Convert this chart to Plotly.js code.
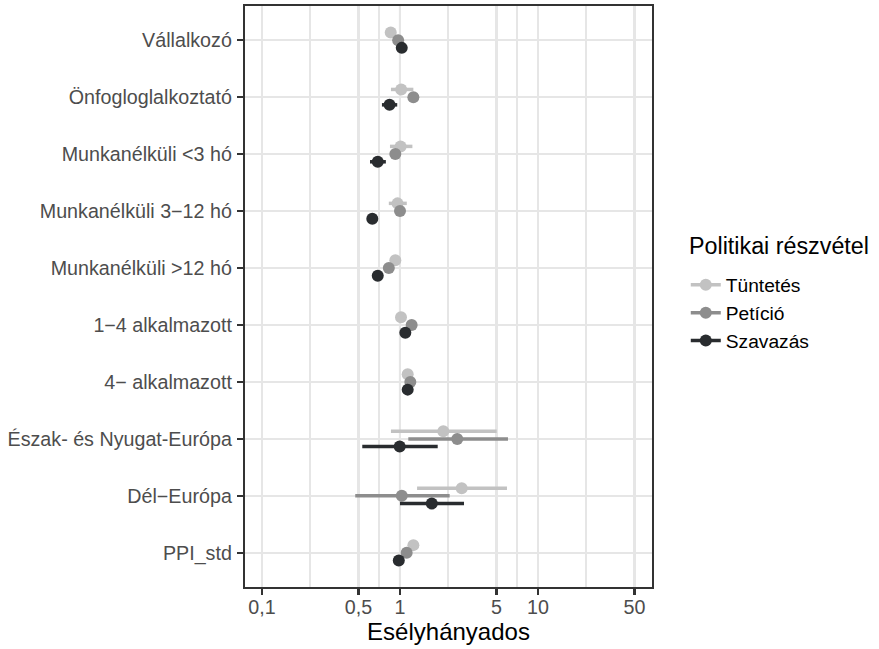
<!DOCTYPE html>
<html><head><meta charset="utf-8">
<script src="https://cdn.plot.ly/plotly-3.0.1.min.js"></script>
<style>html,body{margin:0;padding:0;background:#fff}</style>
</head><body>
<div id="chart" style="width:879px;height:649px"></div>
<script>
const categories = ['Vállalkozó','Önfogloglalkoztató','Munkanélküli <3 hó','Munkanélküli 3−12 hó','Munkanélküli >12 hó','1−4 alkalmazott','4− alkalmazott','Észak- és Nyugat-Európa','Dél−Európa','PPI_std'];
const seriesNames = ['Tüntetés','Petíció','Szavazás'];
const legendTitle = 'Politikai részvétel';
const xTitle = 'Esélyhányados';

const tuntetes   = [0.857, 1.02, 1.01, 0.96, 0.925, 1.017, 1.137, 2.06, 2.8, 1.25];
const tuntetesLo = [0.83, 0.86, 0.846, 0.83, 0.89, 0.98, 1.09, 0.86, 1.33, 1.20];
const tuntetesHi = [0.89, 1.25, 1.23, 1.12, 0.96, 1.06, 1.19, 5.02, 5.96, 1.30];

const peticio   = [0.97, 1.25, 0.925, 1.0, 0.83, 1.215, 1.188, 2.6, 1.03, 1.118];
const peticioLo = [0.93, 1.17, 0.87, 0.95, 0.79, 1.16, 1.13, 1.149, 0.474, 1.07];
const peticioHi = [1.01, 1.34, 0.98, 1.05, 0.87, 1.27, 1.25, 6.06, 2.29, 1.17];

const szavazas   = [1.03, 0.84, 0.69, 0.63, 0.69, 1.093, 1.137, 0.995, 1.70, 0.98];
const szavazasLo = [1.0, 0.74, 0.606, 0.61, 0.66, 1.06, 1.10, 0.533, 1.0, 0.955];
const szavazasHi = [1.06, 0.955, 0.79, 0.65, 0.72, 1.13, 1.18, 1.876, 2.91, 1.005];

const xTickVals = [0.1, 0.5, 1, 5, 10, 50];
const xTickText = ['0,1', '0,5', '1', '5', '10', '50'];
const refValue = 1;

const colors = ['#c2c2c2', '#8d8d8d', '#292c2f'];
const dodge = 0.135;
const FONT = '"Liberation Sans", Arial, Helvetica, sans-serif';
const GRID = '#e6e6e6';

const series = [
  [tuntetes, tuntetesLo, tuntetesHi],
  [peticio, peticioLo, peticioHi],
  [szavazas, szavazasLo, szavazasHi]
];

const traces = [];
series.forEach((s, k) => {
  const [v, lo, hi] = s;
  const off = (k - 1) * dodge;
  traces.push({
    type: 'scatter', mode: 'markers', name: seriesNames[k], showlegend: false,
    x: v, y: categories.map((_, i) => i + off),
    marker: {size: 12, color: colors[k]},
    error_x: {type: 'data', symmetric: false,
      array: v.map((d, i) => hi[i] - d), arrayminus: v.map((d, i) => d - lo[i]),
      color: colors[k], thickness: 3.5, width: 0},
    hoverinfo: 'x+name'
  });
});
seriesNames.forEach((n, k) => {
  traces.push({
    type: 'scatter', mode: 'lines+markers', name: n, x: [null], y: [null],
    marker: {size: 12, color: colors[k]}, line: {color: colors[k], width: 3.5}
  });
});

const minorVals = [];
for (let i = 0; i < xTickVals.length - 1; i++) minorVals.push(Math.sqrt(xTickVals[i] * xTickVals[i + 1]));

const layout = {
  width: 879, height: 649,
  margin: {l: 245, r: 227, t: 6, b: 62},
  paper_bgcolor: '#fff', plot_bgcolor: '#fff',
  font: {family: FONT, color: '#000'},
  showlegend: true,
  xaxis: {
    type: 'log', range: [-1.123, 1.826], autorange: false,
    tickmode: 'array', tickvals: xTickVals, ticktext: xTickText,
    ticks: 'outside', ticklen: 6, tickwidth: 2.2, tickcolor: '#333',
    showline: true, mirror: true, linecolor: '#333', linewidth: 2.2,
    showgrid: true, gridcolor: GRID, gridwidth: 2.6, zeroline: false,
    minor: {tickmode: 'array', tickvals: minorVals, showgrid: true, gridcolor: GRID, gridwidth: 1.8, ticks: ''},
    tickfont: {size: 19.7, color: '#4d4d4d', family: FONT},
    ticklabelstandoff: -5,
    title: {text: xTitle, font: {size: 24, color: '#000', family: FONT}, standoff: 4}
  },
  yaxis: {
    range: [categories.length - 0.4, -0.6], autorange: false,
    tickmode: 'array', tickvals: categories.map((_, i) => i), ticktext: categories,
    ticks: 'outside', ticklen: 6, tickwidth: 2.2, tickcolor: '#333',
    showline: true, mirror: true, linecolor: '#333', linewidth: 2.2,
    showgrid: true, gridcolor: GRID, gridwidth: 2.6, zeroline: false,
    tickfont: {size: 19.7, color: '#4d4d4d', family: FONT},
    ticklabelstandoff: 1
  },
  shapes: [{type: 'line', xref: 'x', yref: 'paper', x0: refValue, x1: refValue, y0: 0, y1: 1,
    line: {color: '#000', width: 2}, layer: 'between'}],
  annotations: [{text: legendTitle, xref: 'paper', yref: 'paper', x: 1.0855, y: 0.587,
    xanchor: 'left', yanchor: 'middle', showarrow: false,
    font: {size: 23.3, color: '#000', family: FONT}}],
  legend: {
    x: 1.083, y: 0.553, xanchor: 'left', yanchor: 'top',
    font: {size: 19.2, color: '#000', family: FONT},
    bgcolor: 'rgba(0,0,0,0)', itemwidth: 30
  }
};

Plotly.newPlot('chart', traces, layout, {displayModeBar: false, staticPlot: true});
</script>
</body></html>
